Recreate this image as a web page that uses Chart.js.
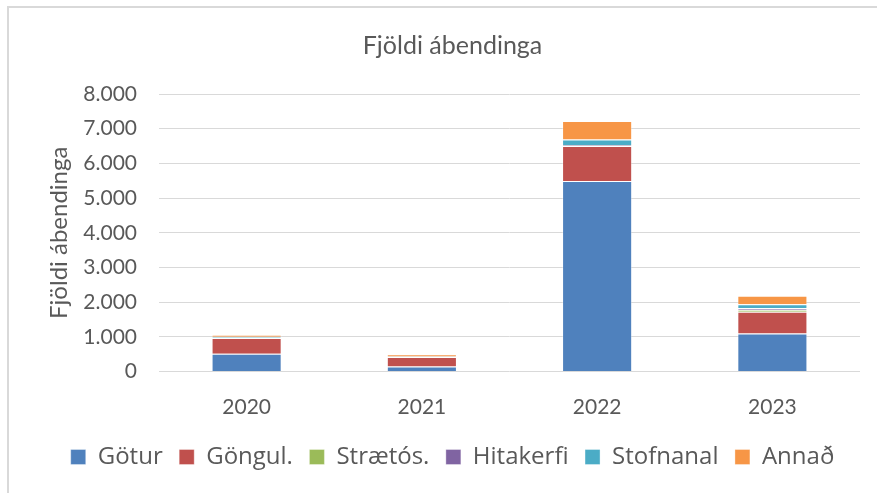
<!DOCTYPE html>
<html>
<head>
<meta charset="utf-8">
<script src="https://cdn.jsdelivr.net/npm/chart.js@4/dist/chart.umd.min.js"></script>
<style>
  html, body { margin: 0; padding: 0; background: #fff; }
  #wrap { position: relative; width: 877px; height: 493px; }
  #frame { position: absolute; left: 7px; top: 6px; right: -4px; bottom: -4px;
           border-left: 2px solid #d9d9d9; border-top: 2px solid #d9d9d9; }
  canvas { position: absolute; left: 0; top: 0; }
</style>
</head>
<body>
<div id="wrap">
  <div id="frame"></div>
  <canvas id="chart" width="877" height="493"></canvas>
</div>
<script>
const years = ['2020', '2021', '2022', '2023'];
const gotur = [515, 145, 5490, 1096];
const gongul = [450, 270, 1010, 626];
const stratos = [5, 5, 10, 58];
const hitakerfi = [5, 5, 20, 49];
const stofnanal = [30, 10, 160, 107];
const annad = [50, 60, 530, 250];

const textColor = '#595959';
const fontFamily = 'Lato, "Open Sans", sans-serif';
const legendFont = '"Open Sans", Lato, sans-serif';

function series(label, data, color) {
    return {
        label: label,
        data: data,
        backgroundColor: color,
        borderColor: 'rgba(255,255,255,0.35)',
        borderWidth: 1,
        barPercentage: 0.4,
        categoryPercentage: 1.0,
    };
}

function fmt(v) {
    return String(v).replace(/\B(?=(\d{3})+(?!\d))/g, '.');
}

new Chart(document.getElementById('chart'), {
    type: 'bar',
    data: {
        labels: years,
        datasets: [
            series('Götur', gotur, '#4F81BD'),
            series('Göngul.', gongul, '#C0504D'),
            series('Strætós.', stratos, '#9BBB59'),
            series('Hitakerfi', hitakerfi, '#8064A2'),
            series('Stofnanal', stofnanal, '#4BACC6'),
            series('Annað', annad, '#F79646'),
        ]
    },
    options: {
        responsive: false,
        animation: false,
        // left padding shifts title and legend centres toward the reference
        layout: { padding: { left: 28, right: 0, top: 0, bottom: 14 } },
        plugins: {
            title: {
                display: true,
                text: 'Fjöldi ábendinga',
                color: textColor,
                font: { family: fontFamily, size: 25, weight: 'normal' },
                padding: { top: 31, bottom: 33 },
            },
            legend: {
                position: 'bottom',
                labels: {
                    color: textColor,
                    font: { family: legendFont, size: 24 },
                    boxWidth: 15,
                    boxHeight: 15,
                    padding: 16.5,
                },
            },
            tooltip: { enabled: false },
        },
        scales: {
            x: {
                stacked: true,
                grid: { display: false },
                border: { display: false },
                ticks: { color: textColor, font: { family: fontFamily, size: 21 }, padding: 15 },
                afterFit: (s) => { s.height = 57; },
            },
            y: {
                stacked: true,
                min: 0,
                max: 8000,
                grid: { color: '#d9d9d9', lineWidth: 1, drawTicks: false },
                border: { display: false },
                ticks: {
                    stepSize: 1000,
                    color: textColor,
                    font: { family: fontFamily, size: 21 },
                    padding: 22,
                    callback: (v) => fmt(v),
                },
                title: {
                    display: true,
                    text: 'Fjöldi ábendinga',
                    color: textColor,
                    font: { family: fontFamily, size: 24 },
                    padding: { top: 17, bottom: 0 },
                },
                afterFit: (s) => { s.width = 131; },
            },
            // empty right axis, only holds the gap at the right edge
            yRight: {
                position: 'right',
                min: 0,
                max: 8000,
                grid: { display: false },
                border: { display: false },
                ticks: { display: false },
                afterFit: (s) => { s.width = 17; },
            },
        },
    },
});
</script>
</body>
</html>
